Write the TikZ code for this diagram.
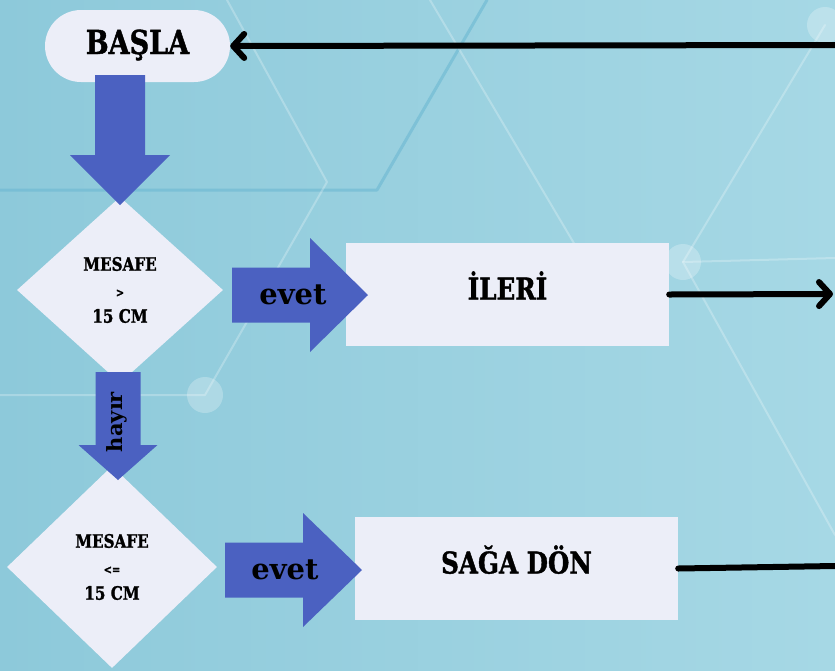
\documentclass[tikz,border=0pt]{standalone}
\usepackage{fontspec}
\setmainfont{DejaVu Serif}
\newfontfamily\kutuyazi[FakeStretch=0.82, BoldFeatures={FakeBold=1.3}]{DejaVu Serif}
\usetikzlibrary{shapes.geometric,arrows.meta}
\definecolor{zemin1}{RGB}{141,201,218}
\definecolor{zemin2}{RGB}{166,216,229}
\definecolor{zeminhat}{RGB}{108,184,210}
\definecolor{kutu}{RGB}{236,238,248}
\definecolor{okmavi}{RGB}{75,97,193}
\tikzset{
	kutu/.style={fill=kutu, inner sep=0pt, minimum width=323pt, minimum height=103pt, text height=22pt, text depth=12pt, font=\kutuyazi\bfseries\fontsize{30}{30}\selectfont},
	karar/.style={diamond, fill=kutu, inner sep=0pt, align=center, font=\kutuyazi\bfseries\fontsize{18.5}{26}\selectfont},
	okyazi/.style={font=\bfseries\fontsize{29}{29}\selectfont},
	baglanti/.style={line width=6pt, -{Straight Barb[length=11pt,width=24pt,round]}},
	pics/blokok/.style args={#1/#2/#3/#4}{code={
		\fill[okmavi] (0,-#3) -- (#2,-#3) -- (#2,-#4) -- (#1,0) -- (#2,#4) -- (#2,#3) -- (0,#3) -- cycle;}}
}
\begin{document}
\begin{tikzpicture}[x=1pt, y=-1pt, line join=round, line cap=round]
	\useasboundingbox (0,0) rectangle (835,670);
	\clip (0,0) rectangle (835,670);
	\shade[left color=zemin1, right color=zemin2] (0,0) rectangle (835,670);
	\draw[zeminhat, line width=3pt, opacity=.6] (0,190) -- (377,190) -- (487,0);
	\begin{scope}[white, opacity=.25, line width=2pt]
		\draw (227,0) -- (327,182) -- (205,395) -- (0,395);
		\draw (430,0) -- (575,245);
		\draw (835,258) -- (683,262) -- (835,535);
		\draw (825,25) -- (683,262);
		\fill (205,395) circle (18) (683,262) circle (18) (825,25) circle (18);
	\end{scope}
	\path
	(835,45) coordinate (donus)
	(833,294) coordinate (ilerison)
	(835,566) coordinate (sagason)
	;
	\node[kutu, rounded corners=36pt, minimum width=185pt, minimum height=72pt, text height=24pt, text depth=8pt, font=\kutuyazi\bfseries\fontsize{33}{33}\selectfont] (basla) at (137.5,46) {BAŞLA};
	\node[karar, minimum width=206pt, minimum height=186pt] (karar1) at (120,290) {MESAFE\\{\fontsize{12}{12}\selectfont >}\\15 CM};
	\node[karar, minimum width=210pt, minimum height=202pt] (karar2) at (112,567) {MESAFE\\{\fontsize{12}{12}\selectfont <=}\\15 CM};
	\node[kutu] (ileri) at (507.5,294.5) {İLERİ};
	\node[kutu] (saga) at (516.5,568.5) {SAĞA DÖN};
	\pic[rotate=-90] at (120,75) {blokok=130/80/25/50};
	\pic at (232,295) {blokok=136/78/27.5/57};
	\pic[rotate=-90] at (118,372) {blokok=108/73/22.5/39.5};
	\pic at (225,570) {blokok=137/78/27.5/57};
	\node[okyazi] (evet1) at (293,295) {evet};
	\node[okyazi] (evet2) at (285,570) {evet};
	\node[okyazi, font=\bfseries\fontsize{21}{21}\selectfont, rotate=90] (hayir) at (117,422) {hayır};
	\draw[baglanti] (donus) -- (basla.east);
	\draw[baglanti] (ileri.east) -- (ilerison);
	\draw[line width=6pt] (saga.east) -- (sagason);
\end{tikzpicture}
\end{document}
